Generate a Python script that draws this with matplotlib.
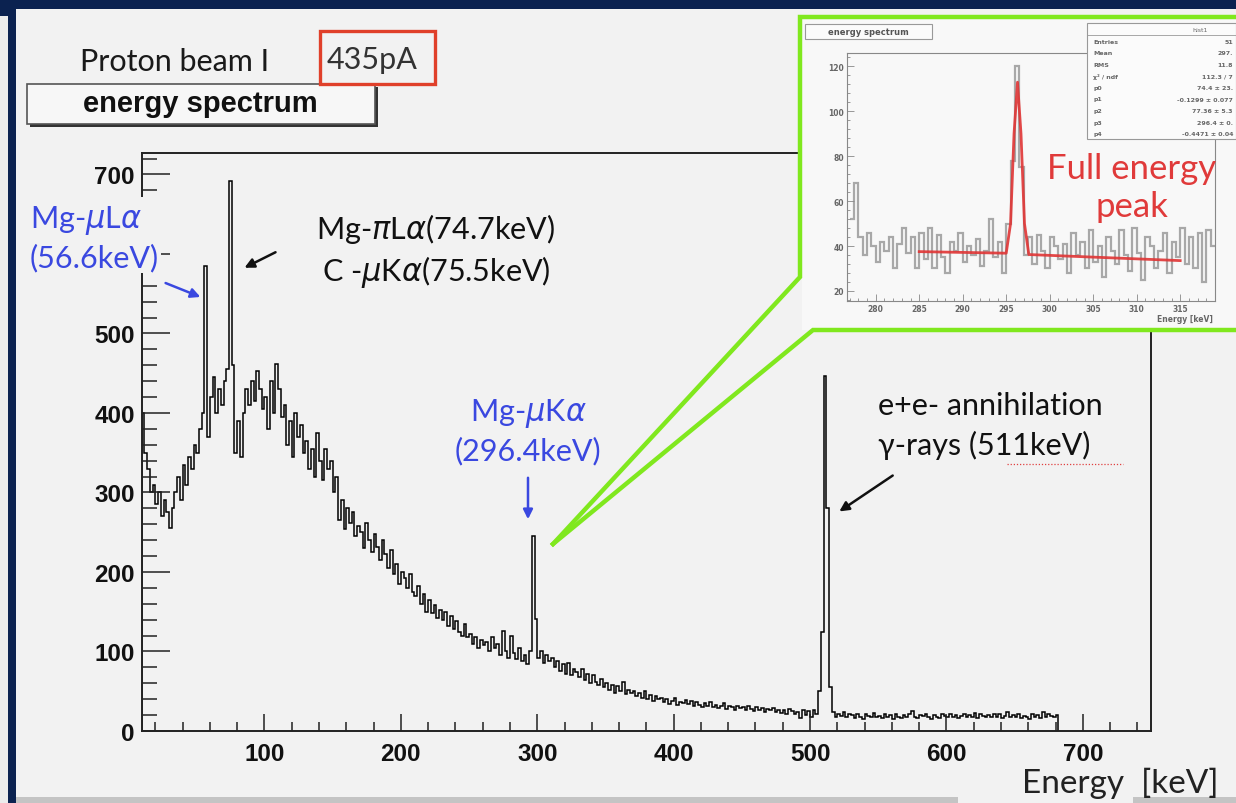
import numpy as np
import matplotlib
matplotlib.use("Agg")
import matplotlib.pyplot as plt
from matplotlib import font_manager
from matplotlib.patches import Rectangle
from matplotlib.lines import Line2D
from matplotlib.ticker import MultipleLocator

# ---------------- data ----------------
BIN_START = 10.0      # keV
BIN_WIDTH = 2.0       # keV
counts = [
    400, 350, 330, 300, 310, 285, 300, 270, 290, 275,   # 10-30
    255, 280, 300, 320, 290, 335, 310, 345, 330, 360,   # 30-50
    350, 380, 400, 585, 370, 420, 445, 400, 430, 410,   # 50-70
    440, 455, 692, 460, 350, 390, 345, 400, 430, 410,   # 70-90
    440, 415, 453, 430, 405, 420, 380, 440, 400, 461,   # 90-110
    430, 395, 410, 360, 390, 345, 400, 370, 385, 350,   # 110-130
    365, 330, 355, 320, 375, 340, 316, 355, 330, 340,   # 130-150
    300, 320, 265, 290, 254, 280, 262, 275, 245, 258,   # 150-170
    250, 230, 262, 240, 225, 248, 232, 215, 240, 222,   # 170-190
    205, 228, 198, 210, 185, 200, 192, 180, 198, 175,   # 190-210
    170, 182, 160, 172, 150, 165, 148, 158, 142, 152,   # 210-230
    140, 150, 132, 145, 128, 138, 125, 120, 135, 118,   # 230-250
    122, 110, 118, 105, 115, 108, 112, 100, 118, 104,   # 250-270
    110, 96, 126, 100, 92, 120, 98, 90, 104, 88,        # 270-290
    95, 84, 100, 245, 141, 92, 100, 85, 96, 88,         # 290-310
    92, 80, 88, 76, 84, 72, 86, 70, 78, 74,             # 310-330
    68, 78, 64, 72, 60, 70, 62, 58, 66, 55,             # 330-350
    60, 52, 58, 48, 56, 50, 62, 46, 52, 48,             # 350-370
    50, 44, 48, 42, 50, 40, 45, 38, 44, 40,             # 370-390
    42, 36, 40, 34, 38, 42, 33, 37, 35, 39,             # 390-410
    34, 38, 31, 36, 33, 30, 35, 32, 36, 30,             # 410-430
    33, 29, 32, 35, 28, 31, 30, 27, 32, 29,             # 430-450
    30, 26, 31, 28, 25, 30, 27, 29, 24, 28,             # 450-470
    26, 29, 24, 27, 23, 26, 22, 28, 25, 21,             # 470-490
    24, 16, 27, 20, 25, 18, 26, 22, 50, 125,            # 490-510
    447, 280, 55, 24, 18, 22, 19, 24, 17, 21,           # 510-530
    20, 16, 22, 18, 15, 21, 19, 17, 23, 18,             # 530-550
    19, 16, 21, 17, 20, 15, 22, 18, 16, 20,             # 550-570
    17, 21, 25, 18, 16, 20, 19, 22, 17, 15,             # 570-590
    20, 18, 16, 21, 19, 17, 22, 18, 20, 16,             # 590-610
    19, 22, 17, 20, 18, 23, 16, 21, 19, 18,             # 610-630
    20, 17, 22, 18, 21, 16, 19, 24, 18, 20,             # 630-650
    17, 21, 16, 19, 18, 15, 22, 17, 20, 16,             # 650-670
    24, 18, 21, 19, 17, 20,                             # 670-682
]
x_ticks = [100, 200, 300, 400, 500, 600, 700]
y_ticks = [0, 100, 200, 300, 400, 500, 600, 700]
y_tick_labels = ["0", "100", "200", "300", "400", "500", "", "700"]  # 600 hidden under label

# inset (zoom around 296 keV)
INSET_START = 277.0
INSET_WIDTH = 0.5
inset_counts = [
    52, 68, 44, 36, 46, 40, 33, 42, 38, 44,
    30, 41, 48, 37, 44, 30, 46, 34, 48, 30,
    45, 35, 28, 42, 38, 46, 33, 40, 36, 43,
    31, 38, 52, 35, 42, 28, 50, 78, 120, 75,
    36, 44, 32, 45, 38, 30, 44, 40, 34, 41,
    28, 46, 36, 42, 30, 47, 33, 40, 26, 44,
    38, 32, 47, 36, 29, 48, 37, 25, 44, 40,
    30, 38, 46, 28, 42, 35, 48, 32, 44, 30,
    46, 24, 47, 40,
]
fit_x = [285.0, 295.0, 295.5, 295.9, 296.3, 296.7, 297.1, 297.6, 315.0]
fit_y = [37.5, 36.8, 50.0, 90.0, 113.0, 90.0, 50.0, 36.2, 33.5]
inset_x_ticks = [280, 285, 290, 295, 300, 305, 310, 315]
inset_y_ticks = [20, 40, 60, 80, 100, 120]
stat_names = ["Entries", "Mean", "RMS", "\u03c7\u00b2 / ndf", "p0", "p1", "p2", "p3", "p4"]
stat_vals = ["51", "297.", "11.8", "112.3 / 7", "74.4 \u00b1 23.",
             "-0.1299 \u00b1 0.077", "77.36 \u00b1 5.3", "296.4 \u00b1 0.",
             "-0.4471 \u00b1 0.04"]

# ---------------- style helpers ----------------
def have(name):
    try:
        font_manager.findfont(name, fallback_to_default=False)
        return True
    except Exception:
        return False

SANS = ["Lato", "DejaVu Sans"] if have("Lato") else ["DejaVu Sans"]
NARROW = have("Liberation Sans Narrow")
TICKFONT = ["Liberation Sans Narrow"] if NARROW else ["Liberation Sans", "DejaVu Sans"]
TICKSIZE = 21 if NARROW else 17.5
plt.rcParams["mathtext.fontset"] = "dejavusans"

W, H = 1236, 804
def fx(x):
    return x / W
def fy(y):
    return 1 - y / H
def P(x, y):
    return (fx(x), fy(y))

NAVY = "#0b2250"
PANEL = "#f2f2f2"
BLUE = "#3a48e0"
GREEN = "#80e81e"

fig = plt.figure(figsize=(W / 100, H / 100), dpi=100)
fig.patch.set_facecolor(NAVY)

# light slide panel
fig.add_artist(Rectangle((fx(16), 0), 1 - fx(16), fy(10), transform=fig.transFigure,
                         facecolor=PANEL, edgecolor="none", zorder=-5))
fig.add_artist(Rectangle((0, 0), fx(8), fy(17), transform=fig.transFigure,
                         facecolor="#ececec", edgecolor="none", zorder=-5))
fig.add_artist(Rectangle((fx(16), 0), fx(958) - fx(16), 6 / H, transform=fig.transFigure,
                         facecolor="#c4c4c4", edgecolor="none", zorder=-4))
fig.add_artist(Rectangle((fx(1133), 0), 1 - fx(1133), 6 / H, transform=fig.transFigure,
                         facecolor="#c4c4c4", edgecolor="none", zorder=-4))

# ---------------- main axes ----------------
ax = fig.add_axes([fx(141.7), fy(732), (1151 - 141.7) / W, (732 - 154) / H], zorder=1)
ax.set_facecolor(PANEL)
edges = BIN_START + BIN_WIDTH * np.arange(len(counts) + 1)
ax.stairs(counts, edges, color="black", lw=1.1, baseline=0)
ax.set_xlim(10, 750)
ax.set_ylim(0, 727)
ax.set_xticks(x_ticks)
ax.set_yticks(y_ticks)
ax.set_yticklabels(y_tick_labels)
ax.xaxis.set_minor_locator(MultipleLocator(20))
ax.yaxis.set_minor_locator(MultipleLocator(20))
ax.tick_params(which="both", direction="in", top=False, right=False, width=1.1, color="#222")
ax.tick_params(axis="x", which="major", length=12.5, pad=8)
ax.tick_params(axis="x", which="minor", length=6.5)
ax.tick_params(axis="y", which="major", length=20, pad=5)
ax.tick_params(axis="y", which="minor", length=11)
for lab in ax.get_xticklabels() + ax.get_yticklabels():
    lab.set_fontfamily(TICKFONT)
    lab.set_fontweight("bold")
    lab.set_fontsize(TICKSIZE)
    lab.set_color("#111")
for sp in ax.spines.values():
    sp.set_linewidth(1.4)
    sp.set_color("#222")

# ---------------- header texts ----------------
fig.text(fx(80), fy(62), "Proton beam I", family=SANS, fontsize=22, color="#1a1a1a",
         ha="left", va="center", zorder=6)
fig.text(fx(327), fy(60), "435pA", family=SANS, fontsize=22, color="#333333",
         ha="left", va="center", zorder=6)
fig.add_artist(Rectangle(P(320, 85), (435 - 320) / W, (85 - 32) / H, transform=fig.transFigure,
                         facecolor="none", edgecolor="#e0402a", lw=2.4, zorder=6))
# ROOT title box
fig.add_artist(Rectangle(P(30, 128), (378 - 30) / W, (128 - 88) / H, transform=fig.transFigure,
                         facecolor="#333333", edgecolor="none", zorder=5))
fig.add_artist(Rectangle(P(27, 125), (375 - 27) / W, (125 - 85) / H, transform=fig.transFigure,
                         facecolor="#f7f7f7", edgecolor="#555555", lw=1.2, zorder=5))
fig.text(fx(200), fy(104), "energy spectrum", family=["Liberation Sans", "DejaVu Sans"],
         fontweight="bold", fontsize=21, color="#111", ha="center", va="center", zorder=6)

# ---------------- annotations ----------------
fig.text(fx(30), fy(238), "Mg-$\\mu$L$\\alpha$\n(56.6keV)", family=SANS, fontsize=22,
         color=BLUE, ha="left", va="center", linespacing=1.3, zorder=6,
         bbox=dict(boxstyle="square,pad=0.05", facecolor=PANEL, edgecolor="none"))
fig.text(fx(436), fy(251), "Mg-$\\pi$L$\\alpha$(74.7keV)\nC -$\\mu$K$\\alpha$(75.5keV)",
         family=SANS, fontsize=22, color="#111", ha="center", va="center",
         multialignment="center", linespacing=1.3, zorder=6)
fig.text(fx(528), fy(431), "Mg-$\\mu$K$\\alpha$\n(296.4keV)", family=SANS, fontsize=22,
         color=BLUE, ha="center", va="center", multialignment="center",
         linespacing=1.3, zorder=6)
fig.text(fx(878), fy(426), "e+e- annihilation\n\u03b3-rays (511keV)", family=SANS,
         fontsize=22, color="#111", ha="left", va="center", linespacing=1.45, zorder=6)
fig.add_artist(Line2D([fx(1007), fx(1123)], [fy(465), fy(465)], transform=fig.transFigure,
                      color="#e04040", lw=0.9, ls=(0, (1, 1.5)), zorder=6))

def arrow(tail, head, color):
    fig.add_artist(matplotlib.patches.FancyArrowPatch(
        P(*tail), P(*head), transform=fig.transFigure, arrowstyle="-|>",
        mutation_scale=14, color=color, lw=1.8, zorder=6))

arrow((163, 283), (203, 299), BLUE)
arrow((278, 252), (242, 270), "#111")
arrow((528, 476), (528, 523), BLUE)
arrow((895, 475), (837, 514), "#111")

fig.text(fx(1218), fy(783), "Energy  [keV]", family=SANS, fontsize=24, color="#222",
         ha="right", va="center", zorder=6)

# ---------------- inset ----------------
fig.add_artist(Rectangle(P(802, 331), (W - 802) / W, (331 - 18) / H, transform=fig.transFigure,
                         facecolor="#f8f8f8", edgecolor="none", zorder=2))
iax = fig.add_axes([fx(847), fy(302), (1215 - 847) / W, (302 - 54) / H], zorder=3)
iax.set_facecolor("#f8f8f8")
iedges = INSET_START + INSET_WIDTH * np.arange(len(inset_counts) + 1)
iax.stairs(inset_counts, iedges, color="#a8a8a8", lw=1.6, baseline=None)
iax.plot(fit_x, fit_y, color="#e03535", lw=2.0, alpha=0.9)
iax.set_xlim(276.7, 319)
iax.set_ylim(15.5, 126)
iax.set_xticks(inset_x_ticks)
iax.set_yticks(inset_y_ticks)
iax.xaxis.set_minor_locator(MultipleLocator(1))
iax.yaxis.set_minor_locator(MultipleLocator(4))
iax.tick_params(which="both", direction="in", top=False, right=False, width=0.6,
                color="#888", labelsize=5.5, labelcolor="#666", pad=2)
iax.tick_params(which="major", length=5)
iax.tick_params(which="minor", length=2.5)
for sp in iax.spines.values():
    sp.set_linewidth(0.8)
    sp.set_color("#888")
for lab in iax.get_xticklabels() + iax.get_yticklabels():
    lab.set_fontweight("bold")
fig.text(fx(1213), fy(320), "Energy [keV]", fontsize=5.5, fontweight="bold", color="#666",
         ha="right", va="center", zorder=6)
# inset title box
fig.add_artist(Rectangle(P(805, 40), (932 - 805) / W, (40 - 25) / H, transform=fig.transFigure,
                         facecolor="#fbfbfb", edgecolor="#999", lw=0.8, zorder=5))
fig.text(fx(868), fy(32.5), "energy spectrum", fontsize=6, fontweight="bold", color="#555",
         ha="center", va="center", zorder=6)
# stats box
fig.add_artist(Rectangle(P(1087, 140), (W - 1087) / W, (140 - 24) / H,
                         transform=fig.transFigure, facecolor="#fbfbfb", edgecolor="#999",
                         lw=0.8, zorder=5))
fig.add_artist(Line2D([fx(1087), 1], [fy(36), fy(36)], transform=fig.transFigure,
                      color="#999", lw=0.6, zorder=6))
fig.text(fx(1200), fy(30), "hist1", fontsize=4.5, color="#666", ha="center", va="center",
         zorder=6)
for k, (nm, vl) in enumerate(zip(stat_names, stat_vals)):
    yy = 42 + k * 11.6
    fig.text(fx(1093), fy(yy), nm, fontsize=4.5, fontweight="bold", color="#666",
             ha="left", va="center", zorder=6)
    fig.text(fx(1233), fy(yy), vl, fontsize=4.5, fontweight="bold", color="#666",
             ha="right", va="center", zorder=6)

fig.text(fx(1132), fy(188), "Full energy\npeak", family=SANS, fontsize=25, color="#e03a3a",
         ha="center", va="center", linespacing=1.25, zorder=6)

# green callout
fig.add_artist(Line2D([fx(553), fx(800), fx(800), 1.0], [fy(545), fy(278), fy(18), fy(18)],
                      transform=fig.transFigure, color=GREEN, lw=3.2,
                      solid_joinstyle="miter", zorder=7))
fig.add_artist(Line2D([fx(553), fx(813), 1.0], [fy(545), fy(331), fy(331)],
                      transform=fig.transFigure, color=GREEN, lw=3.2,
                      solid_joinstyle="miter", zorder=7))

fig.savefig("out.png", dpi=100, facecolor=fig.get_facecolor())
